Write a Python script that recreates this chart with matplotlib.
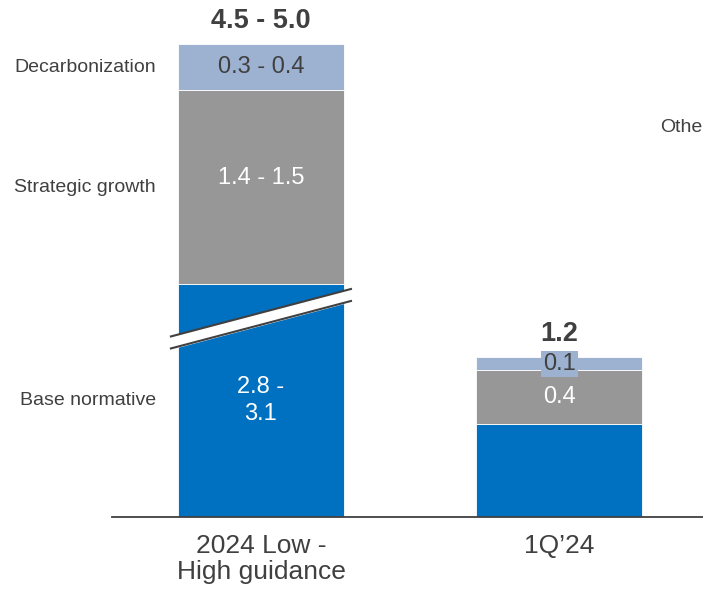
import matplotlib
matplotlib.use("Agg")
import matplotlib.pyplot as plt
import matplotlib.transforms as mtransforms
import numpy as np

plt.rcParams['font.family'] = ['Liberation Sans', 'DejaVu Sans']

# ---- data ----
categories = ["2024 Low -\nHigh guidance", "1Q\u201924"]
series_names = ["Base normative", "Strategic growth", "Decarbonization"]
base_values = [2.95, 0.7]          # midpoint of 2.8 - 3.1 ; 1Q'24
growth_values = [1.45, 0.4]        # midpoint of 1.4 - 1.5
decarb_values = [0.35, 0.1]        # midpoint of 0.3 - 0.4
base_labels = ["2.8 -\n3.1", ""]
growth_labels = ["1.4 - 1.5", "0.4"]
decarb_labels = ["0.3 - 0.4", "0.1"]
total_labels = ["4.5 - 5.0", "1.2"]
hidden_by_break = [1.2, 0.0]       # axis break removes this much of the base bar
legend_extra = "Othe"              # legend entry cut off at the right edge in the original

# ---- style ----
BLUE = "#0070C0"
GRAY = "#979797"
LBLUE = "#9DB1D0"
TXT = "#404040"

W, H = 703, 590
fig = plt.figure(figsize=(W / 100, H / 100), dpi=100)
ax_left, ax_bottom = 112, 73
ax = fig.add_axes([ax_left / W, ax_bottom / H, (W - ax_left) / W, (H - ax_bottom) / H])

px_per_unit = 133.3
ax.set_ylim(0, (H - ax_bottom) / px_per_unit)
ax.set_xlim(-0.499, 1.481)

x = np.arange(len(categories))
bw = 0.556
base_disp = np.array(base_values) - np.array(hidden_by_break)
growth = np.array(growth_values)
decarb = np.array(decarb_values)

ax.bar(x, base_disp, bw, color=BLUE, edgecolor="white", linewidth=0.6, zorder=2)
ax.bar(x, growth, bw, bottom=base_disp, color=GRAY, edgecolor="white", linewidth=0.6, zorder=2)
ax.bar(x, decarb, bw, bottom=base_disp + growth, color=LBLUE, edgecolor="white", linewidth=0.6, zorder=2)

fs_val = 17
# segment labels
for i in range(len(x)):
    if base_labels[i]:
        ax.text(x[i], base_disp[i] / 2, base_labels[i], ha="center", va="center",
                color="white", fontsize=fs_val, linespacing=1.3, zorder=4)
    gy = base_disp[i] + growth[i] / 2
    if i == 0:
        gy += 0.07
    ax.text(x[i], gy, growth_labels[i], ha="center", va="center",
            color="white", fontsize=fs_val, zorder=4)
    dy = base_disp[i] + growth[i] + decarb[i] / 2
    if i == 0:
        ax.text(x[i], dy, decarb_labels[i], ha="center", va="center",
                color=TXT, fontsize=fs_val, zorder=4)
    else:
        ax.text(x[i], dy, decarb_labels[i], ha="center", va="center",
                color=TXT, fontsize=fs_val, zorder=4,
                bbox=dict(boxstyle="square,pad=0.08", facecolor=LBLUE, edgecolor="none"))
    top = base_disp[i] + growth[i] + decarb[i]
    ax.annotate(total_labels[i], (x[i], top), xytext=(0, 7), textcoords="offset points",
                ha="center", va="bottom", fontsize=19.5, fontweight="bold", color=TXT, zorder=4)

# axis break on first bar
i = 0
bx = x[i]
ext = 0.027
yc = base_disp[i] * 0.85
rise = 0.18
gap = 0.045
xs = np.array([bx - bw / 2 - ext, bx + bw / 2 + ext])
upper = np.array([yc - rise + gap, yc + rise + gap])
lower = np.array([yc - rise - gap, yc + rise - gap])
ax.fill_between(xs, lower, upper, color="white", zorder=3, clip_on=False)
ax.plot(xs, upper, color=TXT, lw=1.5, zorder=3.5, clip_on=False, solid_capstyle="butt")
ax.plot(xs, lower, color=TXT, lw=1.5, zorder=3.5, clip_on=False, solid_capstyle="butt")

# left series labels aligned to first bar segments
trans = mtransforms.blended_transform_factory(fig.transFigure, ax.transData)
seg_centers = [base_disp[0] / 2,
               base_disp[0] + growth[0] / 2,
               base_disp[0] + growth[0] + decarb[0] / 2]
for name, yv in zip(series_names, seg_centers):
    ax.text(156 / W, yv, name, transform=trans, ha="right", va="center",
            fontsize=14, color=TXT)

fig.text(660 / W, 1 - 128 / H, legend_extra, ha="left", va="center", fontsize=14, color=TXT)

# axes styling
for s in ["left", "right", "top"]:
    ax.spines[s].set_visible(False)
ax.spines["bottom"].set_color(TXT)
ax.spines["bottom"].set_linewidth(1.3)
ax.set_yticks([])
ax.set_xticks(x)
ax.set_xticklabels(categories, fontsize=19, color=TXT, linespacing=1.1)
ax.tick_params(axis="x", length=0, pad=12)
ax.set_facecolor("none")

fig.savefig("out.png", dpi=100)
